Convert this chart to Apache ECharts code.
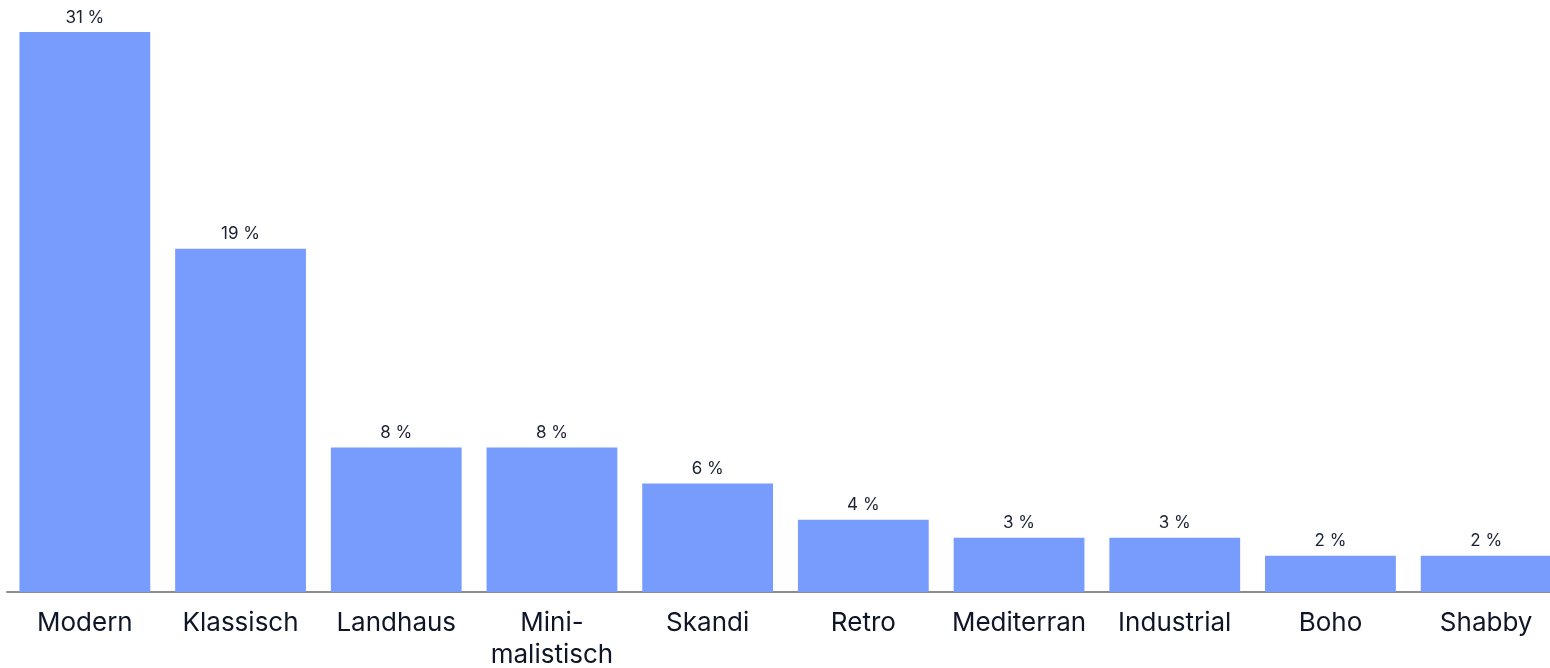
<!DOCTYPE html>
<html><head><meta charset="utf-8">
<script src="https://cdn.jsdelivr.net/npm/echarts@6/dist/echarts.min.js"></script>
<style>html,body{margin:0;padding:0;background:#fff}#c{width:1550px;height:668px}</style>
</head><body><div id="c"></div>
<script>
const categories = ["Modern","Klassisch","Landhaus","Mini-\nmalistisch","Skandi","Retro","Mediterran","Industrial","Boho","Shabby"];
const values = [31,19,8,8,6,4,3,3,2,2];
const chart = echarts.init(document.getElementById('c'));
chart.setOption({
  animation:false,
  grid:{left:7,width:1557,top:32,bottom:76,containLabel:false,outerBoundsMode:'none'},
  xAxis:{type:'category',data:categories,
    axisLine:{lineStyle:{color:'#8c8c8c',width:2}},
    axisTick:{show:false},
    axisLabel:{color:'#0d1526',fontSize:26,fontFamily:'Inter',margin:15,lineHeight:32,interval:0}},
  yAxis:{type:'value',min:0,max:31,show:false,splitLine:{show:false}},
  series:[{type:'bar',data:values,barCategoryGap:'16%',
    itemStyle:{color:'#789cfe'},
    label:{show:true,position:'top',distance:6,color:'#1a2233',fontSize:17,fontFamily:'Inter',formatter:p=>p.value+' %'}}]
});
</script></body></html>
